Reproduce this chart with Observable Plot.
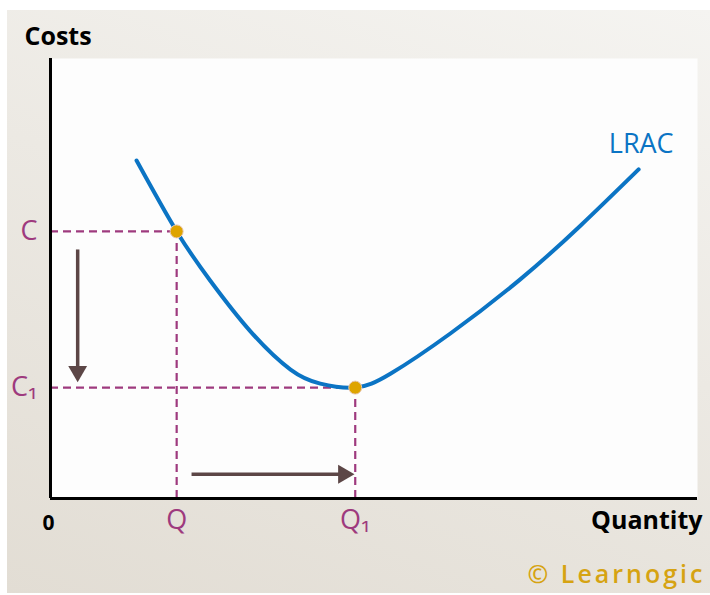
<!DOCTYPE html>
<html><head><meta charset="utf-8">
<script src="https://cdn.jsdelivr.net/npm/d3@7"></script>
<script src="https://cdn.jsdelivr.net/npm/@observablehq/plot@0.6"></script>
<style>
html,body{margin:0;padding:0;background:#fff;}
#wrap{position:relative;width:710px;height:595px;overflow:hidden;}
#bg{position:absolute;left:7px;top:10px;width:703px;height:583px;background:linear-gradient(200deg,#f5f4f1 0%,#ece9e3 45%,#e2ddd4 100%);}
#chart{position:absolute;left:0;top:0;}
.learn text{letter-spacing:3px;}
</style></head>
<body><div id="wrap"><div id="bg"></div><div id="chart"></div></div>
<script>
// LRAC curve (quantity, cost)
const curveQ = [13.3,19.5,24.7,30.9,37.1,41.7,47.1,52.6,61.8,72.6,81.9,90.9];
const curveC = [76.8,60.7,49.5,38.0,29.3,26.1,25.2,28.4,37.5,49.8,62.0,74.8];
// marked points: (Q, C) and (Q1, C1)
const pointQ = [19.5, 47.1];
const pointC = [60.7, 25.2];
const xTickLabels = ["Q", "Q\u2081"];
const yTickLabels = ["C", "C\u2081"];
// arrows
const arrowX1 = [4.2, 21.8], arrowY1 = [56.6, 5.5];
const arrowX2 = [4.2, 45.3], arrowY2 = [28.9, 5.5];
const arrowRot = [180, 90];
const curveLabel = "LRAC", curveLabelQ = 91.3, curveLabelC = 80.5;

const curve = curveQ.map((q,i)=>({q, c: curveC[i]}));
const pts = pointQ.map((q,i)=>({q, c: pointC[i]}));
const arrows = arrowX1.map((x1,i)=>({x1, y1: arrowY1[i], x2: arrowX2[i], y2: arrowY2[i], rot: arrowRot[i]}));

const magenta = "#9e3a7e", blue = "#0b74c4", brown = "#5c4646";
const chart = Plot.plot({
  width: 710, height: 595,
  marginLeft: 50, marginRight: 13, marginTop: 58, marginBottom: 97,
  x: {domain: [0, 100], axis: null},
  y: {domain: [0, 100], axis: null},
  style: {background: "transparent", fontFamily: "Open Sans", overflow: "visible"},
  marks: [
    Plot.frame({fill: "#fdfdfd", stroke: null}),
    Plot.ruleY(pts, {y: "c", x1: 0, x2: "q", stroke: magenta, strokeWidth: 2.2, strokeDasharray: "8,5"}),
    Plot.ruleX(pts, {x: "q", y1: 0, y2: "c", stroke: magenta, strokeWidth: 2.2, strokeDasharray: "8,5"}),
    Plot.line(curve, {x: "q", y: "c", curve: "natural", stroke: blue, strokeWidth: 4}),
    Plot.dot(pts, {x: "q", y: "c", r: 6.5, fill: "#dea400", stroke: "#e8c7b0", strokeWidth: 1}),
    Plot.link(arrows, {x1: "x1", y1: "y1", x2: "x2", y2: "y2", stroke: brown, strokeWidth: 3.5}),
    Plot.dot(arrows, {x: "x2", y: "y2", symbol: "triangle", rotate: "rot", r: 7, fill: brown, stroke: null}),
    Plot.ruleX([0], {stroke: "#000", strokeWidth: 3}),
    Plot.ruleY([0], {stroke: "#000", strokeWidth: 3}),
    Plot.axisX(pointQ, {tickFormat: d => xTickLabels[pointQ.indexOf(d)], tickSize: 0, tickPadding: 11, fontSize: 27, color: magenta}),
    Plot.axisY(pointC, {tickFormat: d => yTickLabels[pointC.indexOf(d)], tickSize: 0, tickPadding: 13, fontSize: 27, color: magenta}),
    Plot.text(["0"], {x: 0, y: 0, dx: -2, dy: 25, fontSize: 21, fontWeight: "bold", fill: "#000"}),
    Plot.text([curveLabel], {x: curveLabelQ, y: curveLabelC, fontSize: 27, fill: blue}),
    Plot.text(["Costs"], {frameAnchor: "top-left", dx: -26, dy: -31, textAnchor: "start", fontSize: 25, fontWeight: "bold", fill: "#000"}),
    Plot.text(["Quantity"], {frameAnchor: "bottom-right", dx: 5, dy: 30, textAnchor: "end", fontSize: 25, fontWeight: "bold", fill: "#000"}),
    Plot.text(["\u00a9 Learnogic"], {frameAnchor: "bottom-right", dx: 8, dy: 84, textAnchor: "end", fontSize: 25, fontWeight: 600, fill: "#d6a312", className: "learn"})
  ]
});
document.getElementById("chart").appendChild(chart);
</script></body></html>
